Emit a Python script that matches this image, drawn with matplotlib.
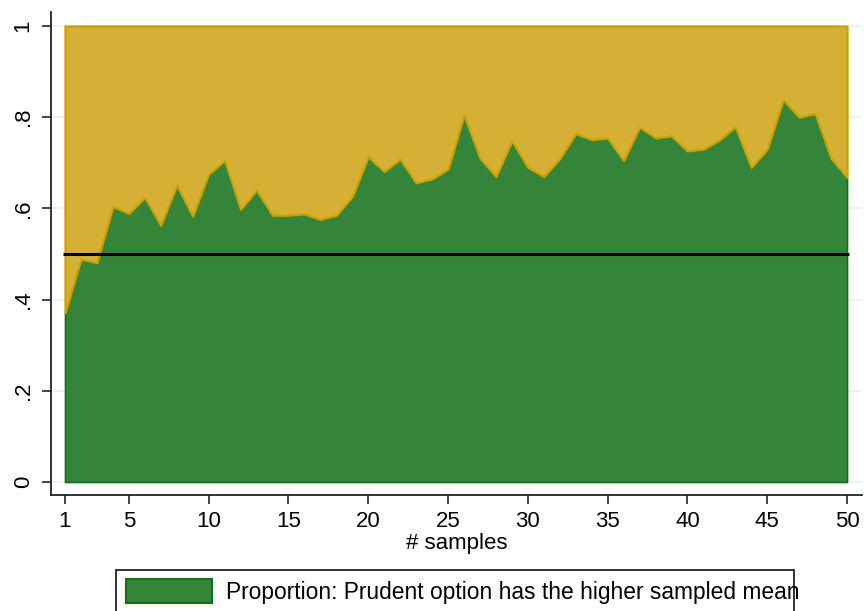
import matplotlib
matplotlib.use("Agg")
import matplotlib.pyplot as plt
from matplotlib.patches import Rectangle

plt.rcParams['font.family'] = ['Liberation Sans', 'DejaVu Sans']

# share of runs where the prudent option had the higher sampled mean
samples = list(range(1, 51))
prop_prudent = [0.371, 0.489, 0.481, 0.604, 0.589, 0.624, 0.563, 0.651, 0.583, 0.675,
                0.705, 0.598, 0.640, 0.585, 0.585, 0.588, 0.576, 0.585, 0.626, 0.713,
                0.681, 0.708, 0.656, 0.665, 0.686, 0.805, 0.710, 0.670, 0.748, 0.690,
                0.670, 0.709, 0.764, 0.751, 0.754, 0.705, 0.778, 0.755, 0.759, 0.726,
                0.730, 0.750, 0.779, 0.690, 0.730, 0.838, 0.800, 0.808, 0.710, 0.668]
ref_level = 0.5
xticks = [1, 5, 10, 15, 20, 25, 30, 35, 40, 45, 50]
yticks = [0, 0.2, 0.4, 0.6, 0.8, 1]
yticklabels = ["0", ".2", ".4", ".6", ".8", "1"]

green = "#34843a"
green_edge = "#137013"
gold = "#d6b034"
gold_edge = "#cba200"

fig = plt.figure(figsize=(8.64, 6.11), dpi=100)
ax = fig.add_axes([51/864, 116/611, 811/864, 483/611])

for y in yticks:
    ax.axhline(y, color="#eaf2f3", lw=1.5, zorder=0)

ax.fill_between(samples, 0, prop_prudent, facecolor=green, edgecolor=green_edge,
                lw=1.2, zorder=2)
ax.fill_between(samples, prop_prudent, 1, facecolor=gold, edgecolor=gold_edge,
                lw=1.6, zorder=3)
ax.hlines(ref_level, samples[0] - 0.1, samples[-1] + 0.1, color="black", lw=2.2, zorder=5)

ax.set_xlim(0.123, 50.94)
ax.set_ylim(-0.0285, 1.0307)
ax.set_xticks(xticks)
ax.set_yticks(yticks)
ax.set_yticklabels(yticklabels, rotation=90, va="center")
ax.tick_params(axis="both", direction="out", length=6.5, width=1.2, labelsize=16,
               color="#222222")
ax.tick_params(axis="y", pad=6)
ax.tick_params(axis="x", pad=5)
for s in ["top", "right"]:
    ax.spines[s].set_visible(False)
for s in ["left", "bottom"]:
    ax.spines[s].set_linewidth(1.3)
    ax.spines[s].set_color("#222222")
ax.set_xlabel("# samples", fontsize=16, labelpad=1)

# legend box, drawn by hand so the long label can run over the frame like the original
fig.patches.append(Rectangle((116/864, -0.05), (794-116)/864, (611-570)/611 + 0.05,
                             transform=fig.transFigure, facecolor="white",
                             edgecolor="#222222", lw=1.3))
fig.patches.append(Rectangle((126/864, (611-603)/611), (212-126)/864, 24/611,
                             transform=fig.transFigure, facecolor=green,
                             edgecolor=green_edge, lw=1.5))
fig.text(226/864, (611-599)/611, "Proportion: Prudent option has the higher sampled mean",
         fontsize=16.4, va="baseline", ha="left")

fig.savefig("out.png", dpi=100)
